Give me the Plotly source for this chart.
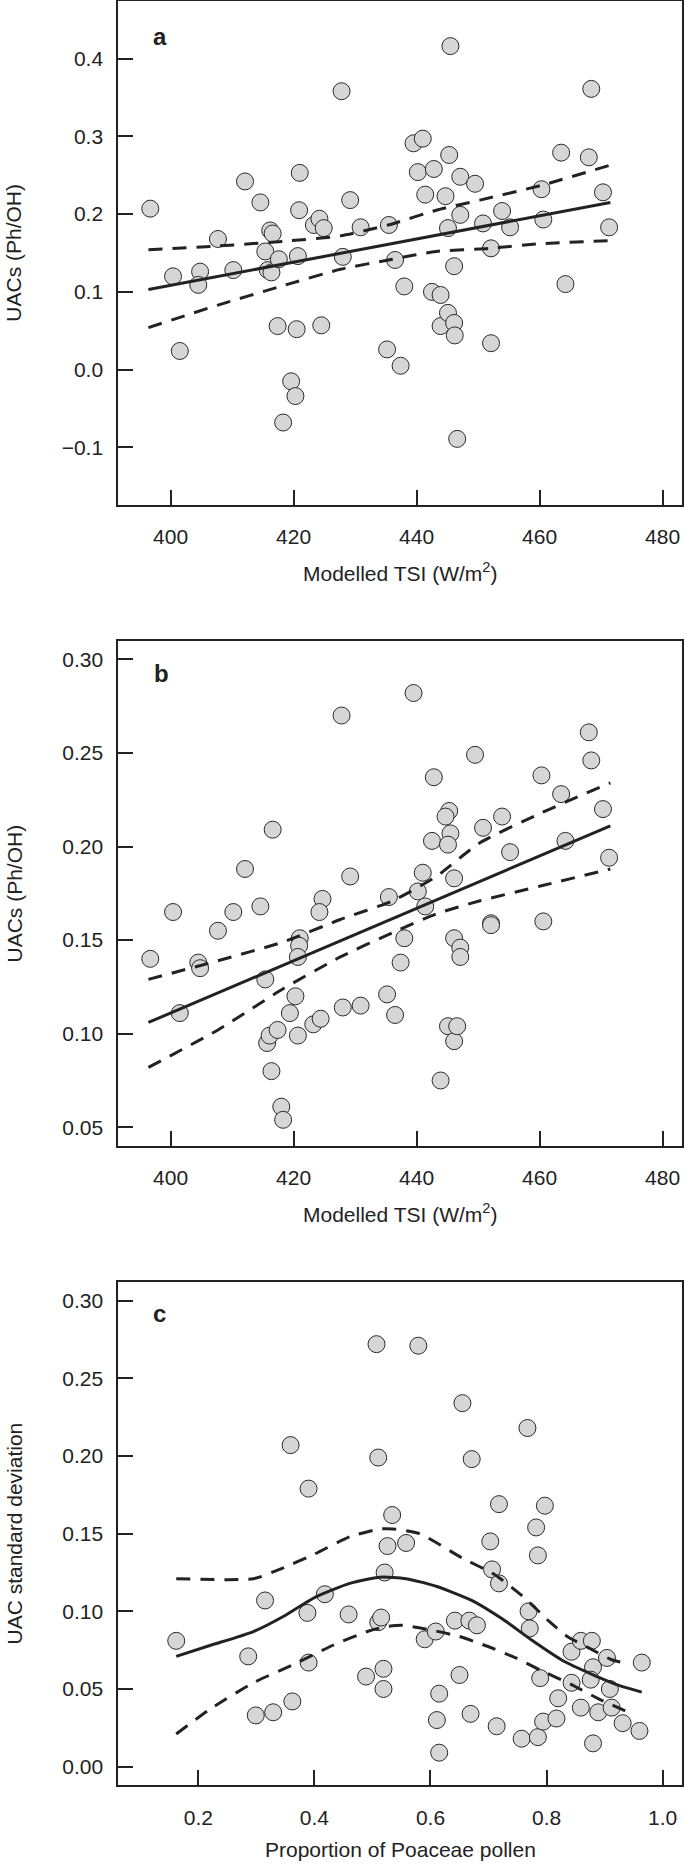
import plotly.graph_objects as go

# ---------------- Panel a: UACs vs modelled TSI ----------------
tsi_a = [396.7, 400.4, 401.5, 404.8, 404.5, 407.7, 410.2, 412.1, 414.6, 416.2,
         416.6, 415.4, 415.8, 416.4, 417.6, 417.4, 418.3, 419.6, 420.3, 420.5,
         420.7, 421.0, 420.9, 423.3, 424.2, 424.9, 424.5, 427.8, 428.0, 429.2,
         430.9, 435.2, 435.5, 436.5, 437.4, 438.0, 439.5, 441.0, 440.2, 441.4,
         442.8, 442.5, 443.9, 443.9, 445.1, 446.1, 446.2, 444.7, 445.3, 445.5,
         445.1, 446.1, 447.1, 447.1, 446.6, 449.5, 450.8, 452.1, 452.1, 453.9,
         455.2, 460.3, 460.6, 463.5, 464.2, 468.0, 468.4, 470.3, 471.3]
uac_a = [0.207, 0.120, 0.024, 0.126, 0.109, 0.168, 0.128, 0.242, 0.215, 0.179,
         0.175, 0.152, 0.128, 0.125, 0.142, 0.056, -0.068, -0.015, -0.034, 0.052,
         0.146, 0.253, 0.205, 0.186, 0.194, 0.182, 0.057, 0.358, 0.145, 0.218,
         0.183, 0.026, 0.186, 0.141, 0.005, 0.107, 0.291, 0.297, 0.254, 0.225,
         0.258, 0.100, 0.096, 0.056, 0.073, 0.060, 0.044, 0.223, 0.276, 0.416,
         0.182, 0.133, 0.199, 0.248, -0.089, 0.239, 0.188, 0.156, 0.034, 0.204,
         0.183, 0.232, 0.193, 0.279, 0.110, 0.273, 0.361, 0.228, 0.183]
fit_a_x = [396.4, 471.5]
fit_a_y = [0.103, 0.215]
ciu_a_x = [396.4, 407.7, 418.3, 427.6, 435.4, 443.2, 450.3, 460.3, 471.5]
ciu_a_y = [0.154, 0.159, 0.165, 0.172, 0.186, 0.205, 0.218, 0.237, 0.263]
cil_a_x = [396.4, 407.7, 418.3, 427.6, 436.1, 443.2, 451.8, 460.3, 471.5]
cil_a_y = [0.054, 0.083, 0.108, 0.129, 0.142, 0.152, 0.156, 0.162, 0.166]

# ---------------- Panel b ----------------
tsi_b = [396.7, 400.4, 401.5, 404.5, 404.8, 407.7, 410.2, 412.1, 414.6, 415.4,
         416.6, 415.7, 416.1, 416.4, 417.4, 418.0, 418.3, 419.4, 420.3, 420.7,
         421.0, 420.9, 420.7, 423.2, 424.4, 424.7, 424.2, 427.8, 428.0, 429.2,
         430.9, 435.2, 435.5, 436.5, 437.4, 438.0, 439.5, 440.2, 441.0, 441.4,
         442.8, 442.5, 443.9, 445.1, 446.1, 446.6, 445.3, 444.7, 445.5, 445.1,
         446.1, 446.1, 447.1, 447.1, 449.5, 450.8, 452.1, 452.1, 453.9, 455.2,
         460.3, 460.6, 463.5, 464.2, 468.0, 468.4, 470.3, 471.3]
uac_b = [0.140, 0.165, 0.111, 0.138, 0.135, 0.155, 0.165, 0.188, 0.168, 0.129,
         0.209, 0.095, 0.099, 0.080, 0.102, 0.061, 0.054, 0.111, 0.120, 0.099,
         0.151, 0.147, 0.141, 0.105, 0.108, 0.172, 0.165, 0.270, 0.114, 0.184,
         0.115, 0.121, 0.173, 0.110, 0.138, 0.151, 0.282, 0.176, 0.186, 0.168,
         0.237, 0.203, 0.075, 0.104, 0.096, 0.104, 0.219, 0.216, 0.207, 0.201,
         0.183, 0.151, 0.146, 0.141, 0.249, 0.210, 0.159, 0.158, 0.216, 0.197,
         0.238, 0.160, 0.228, 0.203, 0.261, 0.246, 0.220, 0.194]
fit_b_x = [396.4, 471.5]
fit_b_y = [0.106, 0.211]
ciu_b_x = [396.4, 407.7, 418.3, 427.6, 436.1, 443.2, 450.3, 460.3, 471.5]
ciu_b_y = [0.129, 0.139, 0.149, 0.161, 0.171, 0.184, 0.202, 0.218, 0.234]
cil_b_x = [396.4, 407.7, 418.3, 427.6, 436.1, 443.2, 450.3, 460.3, 471.5]
cil_b_y = [0.082, 0.102, 0.124, 0.141, 0.154, 0.164, 0.171, 0.179, 0.188]

# ---------------- Panel c ----------------
poaceae = [0.162, 0.286, 0.299, 0.315, 0.329, 0.362, 0.359, 0.390, 0.388, 0.390,
           0.418, 0.459, 0.489, 0.507, 0.510, 0.510, 0.515, 0.519, 0.519, 0.521,
           0.526, 0.534, 0.558, 0.579, 0.590, 0.609, 0.615, 0.611, 0.615, 0.642,
           0.667, 0.680, 0.650, 0.655, 0.671, 0.669, 0.703, 0.706, 0.718, 0.718,
           0.714, 0.757, 0.767, 0.769, 0.771, 0.782, 0.785, 0.785, 0.789, 0.797,
           0.794, 0.817, 0.820, 0.843, 0.843, 0.859, 0.859, 0.878, 0.880, 0.876,
           0.880, 0.889, 0.904, 0.909, 0.912, 0.931, 0.960, 0.964]
uac_sd = [0.081, 0.071, 0.033, 0.107, 0.035, 0.042, 0.207, 0.179, 0.099, 0.067,
          0.111, 0.098, 0.058, 0.272, 0.199, 0.093, 0.096, 0.063, 0.050, 0.125,
          0.142, 0.162, 0.144, 0.271, 0.082, 0.087, 0.047, 0.030, 0.009, 0.094,
          0.094, 0.091, 0.059, 0.234, 0.198, 0.034, 0.145, 0.127, 0.118, 0.169,
          0.026, 0.018, 0.218, 0.100, 0.089, 0.154, 0.136, 0.019, 0.057, 0.168,
          0.029, 0.031, 0.044, 0.074, 0.054, 0.081, 0.038, 0.081, 0.064, 0.056,
          0.015, 0.035, 0.070, 0.050, 0.038, 0.028, 0.023, 0.067]
fit_c_x = [0.162, 0.220, 0.295, 0.348, 0.401, 0.461, 0.513, 0.558, 0.611, 0.671,
           0.724, 0.776, 0.829, 0.881, 0.927, 0.964]
fit_c_y = [0.071, 0.078, 0.087, 0.097, 0.109, 0.118, 0.122, 0.121, 0.116, 0.107,
           0.095, 0.081, 0.068, 0.059, 0.052, 0.048]
ciu_c_x = [0.162, 0.295, 0.340, 0.401, 0.461, 0.513, 0.536, 0.581, 0.656, 0.709,
           0.761, 0.806, 0.835, 0.875, 0.911, 0.942]
ciu_c_y = [0.121, 0.121, 0.127, 0.137, 0.148, 0.153, 0.153, 0.150, 0.134, 0.124,
           0.109, 0.093, 0.084, 0.076, 0.069, 0.066]
cil_c_x = [0.162, 0.220, 0.295, 0.371, 0.431, 0.491, 0.521, 0.551, 0.600, 0.648,
           0.698, 0.747, 0.790, 0.842, 0.888, 0.947]
cil_c_y = [0.021, 0.037, 0.054, 0.067, 0.078, 0.087, 0.090, 0.091, 0.088, 0.084,
           0.0775, 0.070, 0.062, 0.053, 0.044, 0.034]

# ---------------- styling ----------------
W, H = 685, 1864
INK = "#222222"
FONT = "Liberation Sans, Arial, Helvetica, sans-serif"
MARKER = dict(size=17, color="#d6d6d6", line=dict(color="#2a2a2a", width=1))
DASH = "14px,10px"

fig = go.Figure()

panels = [
    ("x", "y", tsi_a, uac_a, fit_a_x, fit_a_y, ciu_a_x, ciu_a_y, cil_a_x, cil_a_y),
    ("x2", "y2", tsi_b, uac_b, fit_b_x, fit_b_y, ciu_b_x, ciu_b_y, cil_b_x, cil_b_y),
    ("x3", "y3", poaceae, uac_sd, fit_c_x, fit_c_y, ciu_c_x, ciu_c_y, cil_c_x, cil_c_y),
]
for xa, ya, px, py, fx, fy, ux, uy, lx, ly in panels:
    fig.add_trace(go.Scatter(x=px, y=py, mode="markers", marker=MARKER,
                             xaxis=xa, yaxis=ya, hoverinfo="x+y"))
    fig.add_trace(go.Scatter(x=ux, y=uy, mode="lines", xaxis=xa, yaxis=ya,
                             line=dict(color=INK, width=3, dash=DASH, shape="spline", smoothing=0.6)))
    fig.add_trace(go.Scatter(x=lx, y=ly, mode="lines", xaxis=xa, yaxis=ya,
                             line=dict(color=INK, width=3, dash=DASH, shape="spline", smoothing=0.6)))
    fig.add_trace(go.Scatter(x=fx, y=fy, mode="lines", xaxis=xa, yaxis=ya,
                             line=dict(color=INK, width=3, shape="spline", smoothing=0.6)))


def px_dom_y(top, bottom):
    return [1 - bottom / H, 1 - top / H]


xdom = [118.3 / W, 682.3 / W]
common = dict(showline=True, mirror=True, linewidth=2, linecolor=INK,
              ticks="inside", ticklen=15, tickwidth=2, tickcolor=INK,
              showgrid=False, zeroline=False,
              tickfont=dict(family=FONT, size=21, color=INK))

tsi_ticks = [400, 420, 440, 460, 480]
fig.update_layout(
    xaxis=dict(domain=xdom, range=[391.5, 483.2], anchor="y",
               tickvals=tsi_ticks, ticklabelstandoff=12, **common),
    yaxis=dict(domain=px_dom_y(1, 504.5), range=[-0.1734, 0.474], anchor="x",
               tickvals=[-0.1, 0.0, 0.1, 0.2, 0.3, 0.4],
               ticktext=["\u22120.1", "0.0", "0.1", "0.2", "0.3", "0.4"],
               ticklabelstandoff=9, **common),
    xaxis2=dict(domain=xdom, range=[391.5, 483.2], anchor="y2",
                tickvals=tsi_ticks, ticklabelstandoff=12, **common),
    yaxis2=dict(domain=px_dom_y(641, 1146), range=[0.040, 0.3098], anchor="x2",
                tickvals=[0.05, 0.10, 0.15, 0.20, 0.25, 0.30],
                ticktext=["0.05", "0.10", "0.15", "0.20", "0.25", "0.30"],
                ticklabelstandoff=9, **common),
    xaxis3=dict(domain=xdom, range=[0.0622, 1.0338], anchor="y3",
                tickvals=[0.2, 0.4, 0.6, 0.8, 1.0],
                ticktext=["0.2", "0.4", "0.6", "0.8", "1.0"],
                ticklabelstandoff=12, **common),
    yaxis3=dict(domain=px_dom_y(1281.7, 1785.3), range=[-0.012, 0.3122], anchor="x3",
                tickvals=[0.0, 0.05, 0.10, 0.15, 0.20, 0.25, 0.30],
                ticktext=["0.00", "0.05", "0.10", "0.15", "0.20", "0.25", "0.30"],
                ticklabelstandoff=9, **common),
    width=W, height=H,
    margin=dict(l=0, r=0, t=0, b=0),
    plot_bgcolor="white", paper_bgcolor="white",
    showlegend=False,
    font=dict(family=FONT, color=INK),
)

annots = []
xc = (118.3 + 682.3) / 2 / W
for text, ypix in [("Modelled TSI (W/m<sup>2</sup>)", 572),
                   ("Modelled TSI (W/m<sup>2</sup>)", 1213),
                   ("Proportion of Poaceae pollen", 1849)]:
    annots.append(dict(text=text, x=xc, y=1 - ypix / H, xref="paper", yref="paper",
                       xanchor="center", yanchor="middle", showarrow=False,
                       font=dict(family=FONT, size=21, color=INK)))
for text, ypix in [("UACs (Ph/OH)", 252.7), ("UACs (Ph/OH)", 893.5),
                   ("UAC standard deviation", 1533.5)]:
    annots.append(dict(text=text, x=14 / W, y=1 - ypix / H, xref="paper", yref="paper",
                       xanchor="center", yanchor="middle", textangle=-90, showarrow=False,
                       font=dict(family=FONT, size=21, color=INK)))
for text, xpix, ypix in [("a", 160, 37), ("b", 161, 673), ("c", 159, 1313)]:
    annots.append(dict(text="<b>" + text + "</b>", x=xpix / W, y=1 - ypix / H,
                       xref="paper", yref="paper", xanchor="center", yanchor="middle",
                       showarrow=False, font=dict(family=FONT, size=24, color=INK)))
fig.update_layout(annotations=annots)

fig.write_html(
    "out.html",
    config={"displayModeBar": False},
    post_script="document.body.style.margin='0';document.body.style.padding='0';"
                "document.body.style.overflow='hidden';"
                "document.documentElement.style.overflow='hidden';",
)
